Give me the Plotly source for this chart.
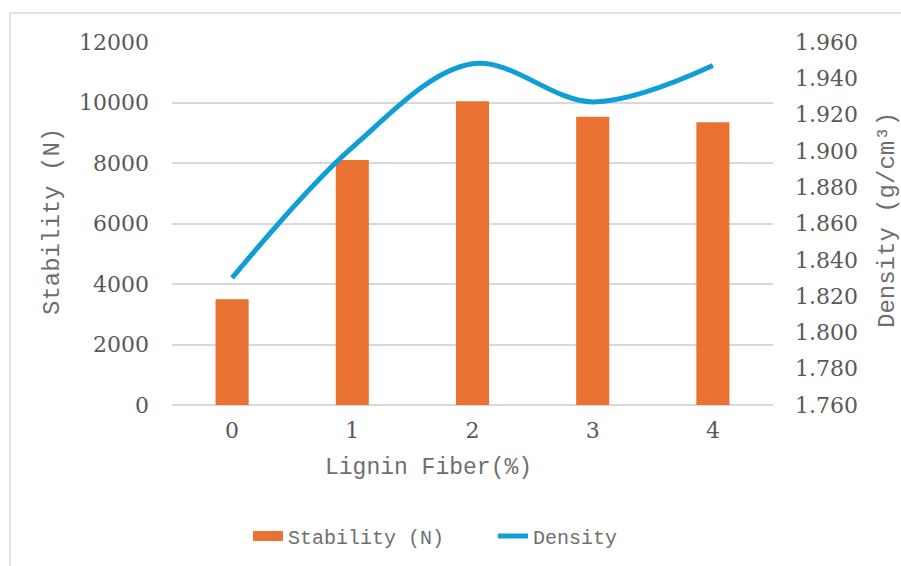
import plotly.graph_objects as go

categories = ["0", "1", "2", "3", "4"]
stability = [3500, 8100, 10040, 9530, 9350]
density = [1.830, 1.902, 1.948, 1.927, 1.947]

left_ticks = [0, 2000, 4000, 6000, 8000, 10000, 12000]
left_ticktext = [str(v) for v in left_ticks]
right_ticks = [1.76, 1.78, 1.80, 1.82, 1.84, 1.86, 1.88, 1.90, 1.92, 1.94, 1.96]
right_ticktext = ["%.3f" % v for v in right_ticks]

ORANGE = "#E97132"
BLUE = "#0F9ED5"
GREY = "#595959"
TGREY = "#6E6E6E"
GRID = "#D9D9D9"
SERIF = "DejaVu Serif, Liberation Serif, serif"
MONO = "Liberation Mono, Courier New, monospace"

fig = go.Figure()
fig.add_trace(go.Bar(x=categories, y=stability, name="Stability (N)", showlegend=False,
                     legendgroup="stab",
                     marker=dict(color=ORANGE, line=dict(width=0)), yaxis="y"))
# legend entry drawn as a wide rectangle like the reference
fig.add_trace(go.Scatter(x=[None], y=[None], name="Stability (N)", mode="lines",
                         legendgroup="stab", line=dict(color=ORANGE, width=12), yaxis="y",
                         hoverinfo="skip"))
fig.add_trace(go.Scatter(x=categories, y=density, name="Density", mode="lines",
                         line=dict(color=BLUE, width=5, shape="spline", smoothing=1),
                         yaxis="y2"))

W, H = 901, 566
L, R, T, B = 172, 128, 42, 161
pw, ph = W - L - R, H - T - B

def px_x(p):
    return (p - L) / pw

def px_y(p):
    return (H - B - p) / ph

fig.update_layout(
    width=W, height=H,
    margin=dict(l=L, r=R, t=T, b=B, autoexpand=False),
    paper_bgcolor="white", plot_bgcolor="white",
    bargap=0.725,
    showlegend=True,
    legend=dict(orientation="h", x=px_x(248), xanchor="left", y=px_y(536), yanchor="middle",
                font=dict(family=MONO, size=20, color=TGREY), bgcolor="rgba(0,0,0,0)",
                entrywidth=200, entrywidthmode="pixels", traceorder="normal"),
    xaxis=dict(tickfont=dict(family=SERIF, size=22, color=GREY), ticklabelstandoff=10,
               showgrid=False, showline=False, ticks="", zeroline=False),
    yaxis=dict(range=[0, 12000], tickvals=left_ticks, ticktext=left_ticktext,
               tickfont=dict(family=SERIF, size=22, color=GREY),
               showgrid=True, gridcolor=GRID, gridwidth=1.5, zeroline=True, zerolinecolor=GRID,
               zerolinewidth=1.5, showline=False, ticks="", ticklabelstandoff=22),
    yaxis2=dict(range=[1.76, 1.96], tickvals=right_ticks, ticktext=right_ticktext, overlaying="y",
                side="right", tickfont=dict(family=SERIF, size=22, color=GREY), showgrid=False,
                zeroline=False, showline=False, ticks="", ticklabelstandoff=21),
    annotations=[
        dict(text="Lignin Fiber(%)", xref="paper", yref="paper", x=px_x(428), y=px_y(468),
             xanchor="center", yanchor="middle", showarrow=False,
             font=dict(family=MONO, size=23, color=TGREY)),
        dict(text="Stability (N)", xref="paper", yref="paper", x=px_x(52), y=px_y(222),
             xanchor="center", yanchor="middle", showarrow=False, textangle=-90,
             font=dict(family=MONO, size=24, color=TGREY)),
        dict(text="Density (g/cm³)", xref="paper", yref="paper", x=px_x(888), y=px_y(220),
             xanchor="center", yanchor="middle", showarrow=False, textangle=-90,
             font=dict(family=MONO, size=24, color=TGREY)),
    ],
    shapes=[dict(type="rect", xref="paper", yref="paper",
                 x0=px_x(10), x1=px_x(910), y0=px_y(580), y1=px_y(13),
                 line=dict(color=GRID, width=1.5), fillcolor="rgba(0,0,0,0)", layer="below")],
)

fig.write_html("out.html")
